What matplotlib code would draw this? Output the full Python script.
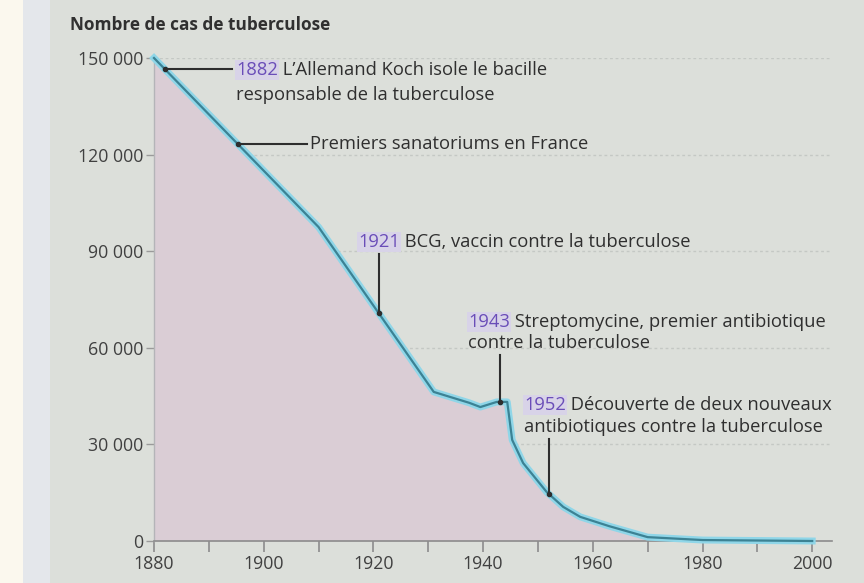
import matplotlib
matplotlib.use("Agg")
import matplotlib.pyplot as plt
from matplotlib.patches import Rectangle
import numpy as np

# ---- data ----
years = [1880, 1910, 1931, 1937.5, 1939.5, 1942.5, 1944.4, 1945.3, 1947.3,
         1951.6, 1954.6, 1957.7, 1963, 1970, 1980, 2000]
cases = [150000, 97500, 46300, 42900, 41600, 43200, 43200, 31400, 24200,
         15200, 10600, 7500, 4600, 1200, 300, 0]
yticks = [0, 30000, 60000, 90000, 120000, 150000]
ytick_labels = ["0", "30 000", "60 000", "90 000", "120 000", "150 000"]
xticks_major = [1880, 1900, 1920, 1940, 1960, 1980, 2000]
xticks_minor = [1890, 1910, 1930, 1950, 1970, 1990]

events = [
    # (year, year label, line1 rest, line2)
    (1882, "1882", " L\u2019Allemand Koch isole le bacille", "responsable de la tuberculose"),
    (1895.3, None, "Premiers sanatoriums en France", None),
    (1921, "1921", " BCG, vaccin contre la tuberculose", None),
    (1943, "1943", " Streptomycine, premier antibiotique", "contre la tuberculose"),
    (1952, "1952", " D\u00e9couverte de deux nouveaux", "antibiotiques contre la tuberculose"),
]
title = "Nombre de cas de tuberculose"

# ---- style ----
W, H = 864, 583
BG = "#dcdfda"
TXT = "#2f2f2f"
PURPLE = "#6a4db8"
FS = 13.2
FONT = ["Open Sans", "DejaVu Sans"]
plt.rcParams["font.family"] = FONT

fig = plt.figure(figsize=(W / 100, H / 100), dpi=100, facecolor=BG)
fig.patches.append(Rectangle((0, 0), 23 / W, 1, transform=fig.transFigure,
                             facecolor="#fbf8ee", edgecolor="none", zorder=-10))
fig.patches.append(Rectangle((23 / W, 0), 27 / W, 1, transform=fig.transFigure,
                             facecolor="#e4e7eb", edgecolor="none", zorder=-10))

x0, x1, ybot, ytop = 154, 832, 541, 58
ax = fig.add_axes([x0 / W, 1 - ybot / H, (x1 - x0) / W, (ybot - ytop) / H])
ax.set_facecolor("none")
ax.set_xlim(1880, 1880 + (x1 - x0) / 5.485)
ax.set_ylim(0, 150000)

for s in ["top", "right"]:
    ax.spines[s].set_visible(False)
ax.spines["left"].set_color("#b4b4b8")
ax.spines["left"].set_linewidth(1.0)
ax.spines["bottom"].set_color("#8c8c8c")
ax.spines["bottom"].set_linewidth(1.2)

ax.set_yticks(yticks)
ax.set_yticklabels(ytick_labels)
ax.set_xticks(xticks_major)
ax.set_xticks(xticks_minor, minor=True)
ax.tick_params(axis="y", length=6, width=1, color="#9a9a9a", labelsize=12.8,
               labelcolor="#404040", pad=2)
ax.tick_params(axis="x", which="both", length=8, width=1.2, color="#8c8c8c",
               direction="out", labelsize=12.8, labelcolor="#404040", pad=2)

for v in yticks[1:]:
    ax.axhline(v, color="#c4c8c4", lw=1, ls=(0, (2, 2)), zorder=0)

ax.fill_between(years, cases, 0, color="#dacdd5", lw=0, zorder=1)
ax.plot(years, cases, color="#8fd6e8", lw=5, solid_joinstyle="round", zorder=3,
        clip_on=False)
ax.plot(years, cases, color="#3c8294", lw=1.6, zorder=4, clip_on=False)

fig.text(70 / W, 1 - 25 / H, title, fontsize=12.4, fontweight="bold",
         color="#303030", va="center", ha="left")

def val_at(yr):
    return float(np.interp(yr, years, cases))

def label(xp, yp, yearlab, rest, line2, dy2=22):
    xf, yf = xp / W, 1 - yp / H
    if yearlab:
        t = fig.text(xf, yf, yearlab, fontsize=FS, color=PURPLE, va="center",
                     ha="left", bbox=dict(boxstyle="square,pad=0.05",
                                          fc="#d8d3e8", ec="none"))
        ax.annotate(rest, xy=(1, 0.5), xycoords=t, va="center", ha="left",
                    fontsize=FS, color=TXT, annotation_clip=False)
    else:
        fig.text(xf, yf, rest, fontsize=FS, color=TXT, va="center", ha="left")
    if line2:
        fig.text(xf, 1 - (yp + dy2) / H, line2, fontsize=FS, color=TXT,
                 va="center", ha="left")

def px2data(xp, yp):
    inv = ax.transData.inverted()
    return inv.transform((xp, H - yp))

fig.canvas.draw()
conn = dict(color="#2e2e2e", lw=1.5, zorder=6, clip_on=False)
mk = dict(marker="o", ms=3, color="#2e2e2e", zorder=7, clip_on=False)

# 1882 horizontal connector
e = events[0]
v = val_at(e[0])
xe, _ = px2data(232, 0)
ax.plot([e[0], xe], [v, v], **conn)
ax.plot([e[0]], [v], **mk)
label(236, 70, e[1], e[2], e[3], dy2=25)

# sanatoriums horizontal connector
e = events[1]
v = val_at(e[0])
xe, _ = px2data(307, 0)
ax.plot([e[0], xe], [v, v], **conn)
ax.plot([e[0]], [v], **mk)
label(310, 144, e[1], e[2], e[3])

# vertical connectors
for e, (tx, ty, ctop, dy2) in zip(events[2:], [(358, 242, 254, 0),
                                                (468, 322, 355, 21),
                                                (524, 405, 439, 22)]):
    v = val_at(e[0])
    _, yt = px2data(0, ctop)
    ax.plot([e[0], e[0]], [v, yt], **conn)
    ax.plot([e[0]], [v], **mk)
    label(tx, ty, e[1], e[2], e[3], dy2=dy2)

fig.savefig("out.png", dpi=100, facecolor=BG)
